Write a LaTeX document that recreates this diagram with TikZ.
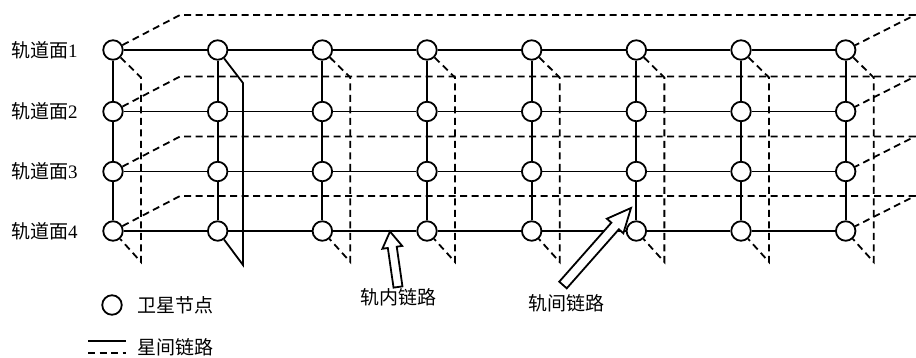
\documentclass[tikz,border=0pt]{standalone}
\usepackage{fontspec}
\setmainfont{Liberation Serif}
\newfontfamily\cjk{Noto Sans CJK SC}
\usetikzlibrary{calc}
\newcommand\hollowArrow[5]{%
  \path ($(#2)!#3!(#1)$) coordinate (hb);
  \draw[harrow] (#2) -- ($(hb)!#4!90:(#2)$) -- ($(hb)!#5!90:(#2)$) -- ($(#1)!#5!90:(hb)$)
    -- ($(#1)!#5!-90:(hb)$) -- ($(hb)!#5!-90:(#2)$) -- ($(hb)!#4!-90:(#2)$) -- cycle;}
\begin{document}
\begin{tikzpicture}[x=1pt,y=-1pt,
  sat/.style={circle,draw,line width=1.8pt,fill=white,minimum size=19.5pt,inner sep=0pt},
  link/.style={line width=1.8pt},
  dlink/.style={line width=1.8pt,dash pattern=on 7pt off 4.5pt},
  lab/.style={font=\fontsize{19}{19}\selectfont,inner sep=0pt},
  harrow/.style={draw,line width=1.8pt,fill=white,line join=miter}]
\useasboundingbox (0,0) rectangle (916,357);
% satellites
\foreach \i in {1,...,8}{
  \foreach \j/\y in {1/50,2/111.5,3/171.5,4/231}{
    \node[sat] (n\j\i) at ({113+104.67*(\i-1)},\y) {};
  }
  \coordinate (t\i) at ({113+104.67*(\i-1)+28},77.5);
  \coordinate (b\i) at ({113+104.67*(\i-1)+28},262);
}
% back planes of orbits (dashed)
\foreach \j/\y in {1/50,2/111.5,3/171.5,4/231}{
  \coordinate (L\j) at (180,\y-35);
  \coordinate (R\j) at (915,\y-35);
  \draw[dlink] (n\j1) -- (L\j) -- (R\j) -- (n\j8);
}
% depth of columns (dashed)
\foreach \i in {1,3,4,5,6,7,8}{
  \draw[dlink] (n1\i) -- (t\i) -- (b\i) -- (n4\i);
}
% solid depth loop of column 2
\coordinate (s1) at (243,83);
\coordinate (s2) at (243,265);
\draw[link,line join=miter] (n12) -- (s1) -- (s2) -- (n42);
% grid links
\foreach \j in {1,...,4}{
  \foreach \i [evaluate=\i as \k using int(\i+1)] in {1,...,7}{
    \draw[link] (n\j\i) -- (n\j\k);
  }
}
\foreach \i in {1,...,8}{
  \foreach \j [evaluate=\j as \k using int(\j+1)] in {1,2,3}{
    \draw[link] (n\j\i) -- (n\k\i);
  }
}
% orbit labels
\node[lab,anchor=west] (o1) at (11,50) {{\cjk 轨道面}1};
\node[lab,anchor=west] (o2) at (11,111.5) {{\cjk 轨道面}2};
\node[lab,anchor=west] (o3) at (11,171.5) {{\cjk 轨道面}3};
\node[lab,anchor=west] (o4) at (11,231) {{\cjk 轨道面}4};
% arrows
\coordinate (a1tail) at (398,287);
\coordinate (a1tip) at (390,231.5);
\hollowArrow{a1tail}{a1tip}{16pt}{10pt}{4.5pt}
\coordinate (a2tail) at (563,285);
\coordinate (a2tip) at (631,208);
\hollowArrow{a2tail}{a2tip}{24pt}{11pt}{5pt}
\node[lab] (intra) at (398,297) {\cjk 轨内链路};
\node[lab] (inter) at (566,303) {\cjk 轨间链路};
% legend
\node[sat] (leg) at (112,305) {};
\node[lab,anchor=west] (legt1) at (137,305) {\cjk 卫星节点};
\coordinate (ls1) at (88,341);
\coordinate (ls2) at (126,341);
\coordinate (ld1) at (88,353);
\coordinate (ld2) at (126,353);
\draw[link] (ls1) -- (ls2);
\draw[dlink] (ld1) -- (ld2);
\node[lab,anchor=west] (legt2) at (137,347) {\cjk 星间链路};
\end{tikzpicture}
\end{document}
